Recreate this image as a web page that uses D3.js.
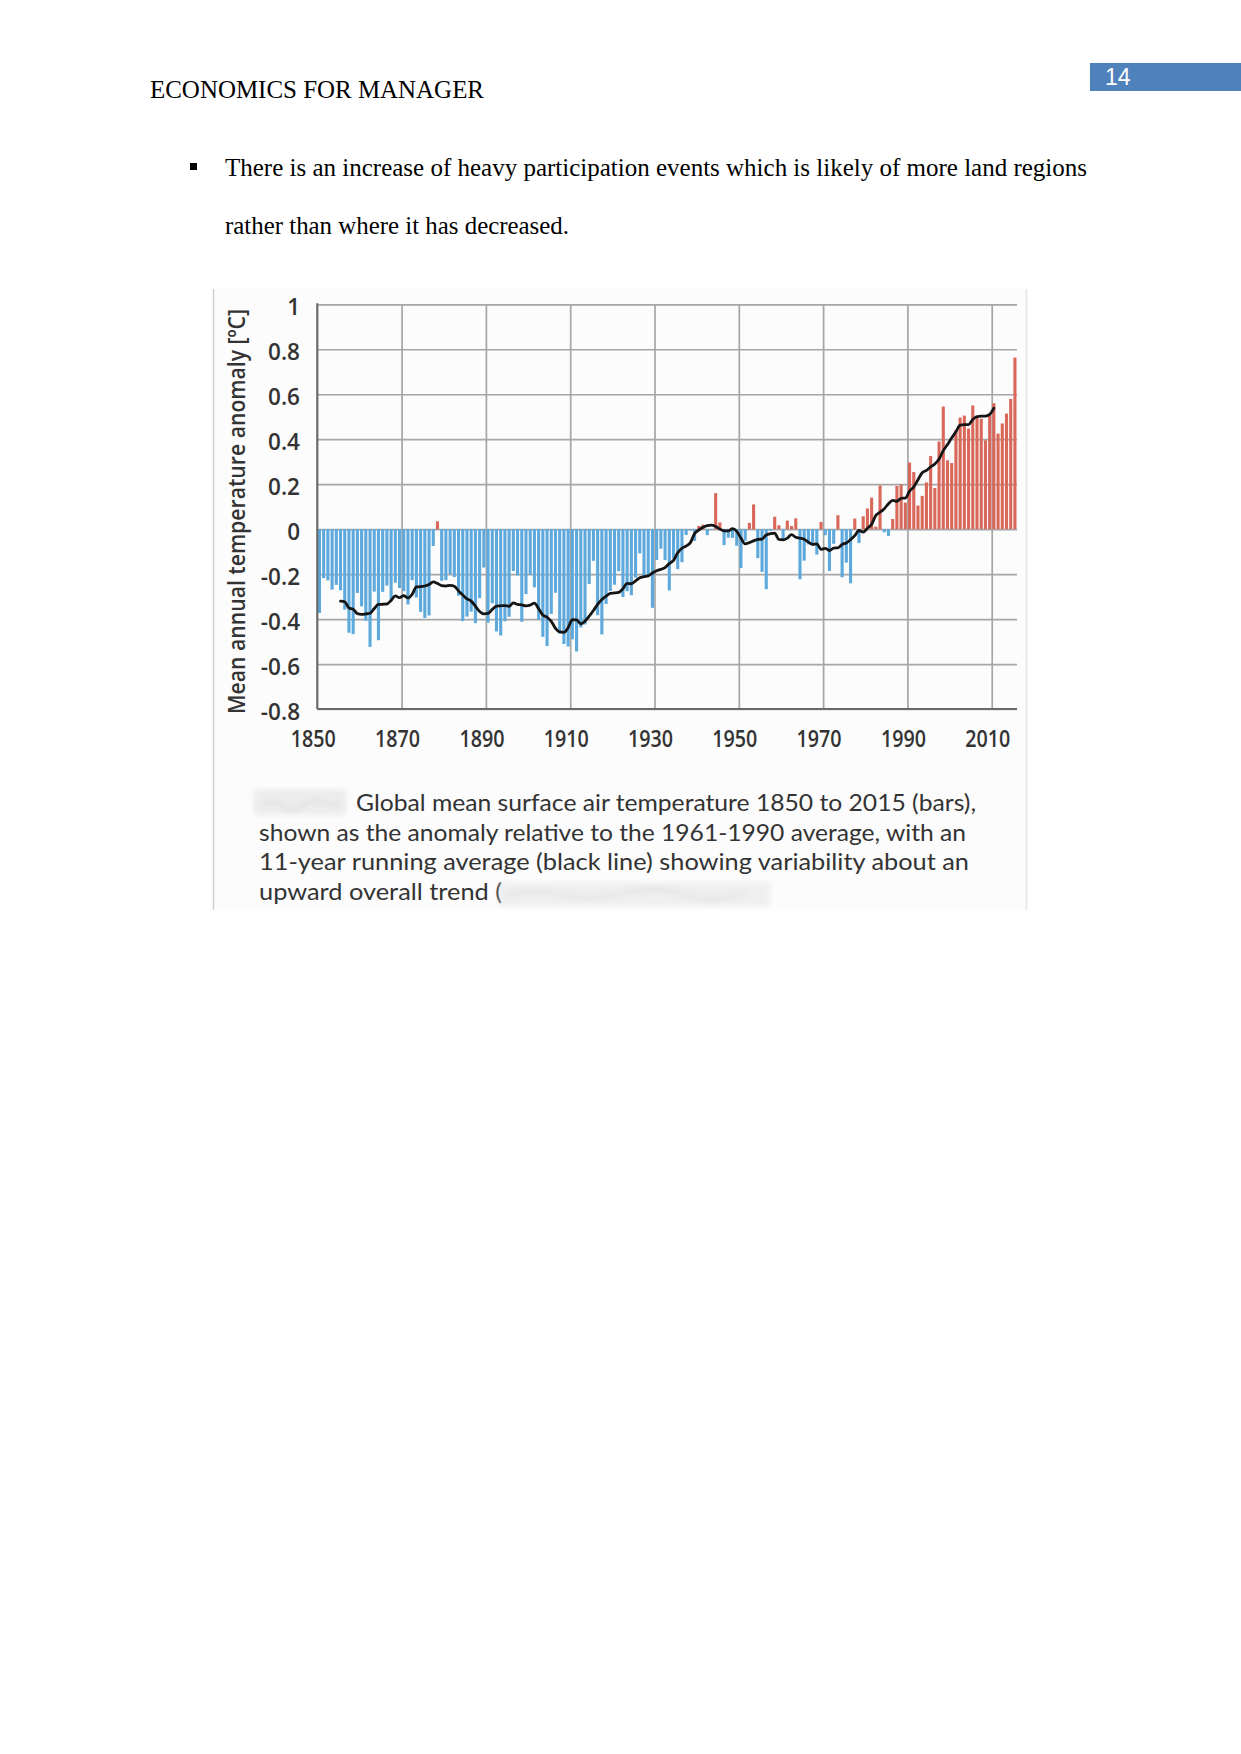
<!DOCTYPE html>
<html>
<head>
<meta charset="utf-8">
<script src="https://cdn.jsdelivr.net/npm/d3@7"></script>
<style>
  html, body { margin: 0; padding: 0; background: #ffffff; }
  svg { display: block; }
</style>
</head>
<body>
<svg id="page" width="1241" height="1754"></svg>
<script>
// ---------------- DATA ----------------
const years = d3.range(1850, 2016);
const anomaly = [
  -0.373, -0.218, -0.228, -0.269, -0.248, -0.272, -0.358, -0.461, -0.467, -0.284,
  -0.343, -0.407, -0.524, -0.278, -0.494, -0.279, -0.251, -0.321, -0.238, -0.262,
  -0.276, -0.335, -0.227, -0.304, -0.368, -0.395, -0.384, -0.075, 0.035, -0.230,
  -0.227, -0.200, -0.213, -0.296, -0.409, -0.389, -0.367, -0.418, -0.307, -0.171,
  -0.416, -0.330, -0.455, -0.473, -0.410, -0.390, -0.186, -0.206, -0.412, -0.289,
  -0.203, -0.259, -0.402, -0.479, -0.520, -0.377, -0.283, -0.465, -0.511, -0.522,
  -0.490, -0.544, -0.437, -0.424, -0.244, -0.141, -0.383, -0.468, -0.333, -0.275,
  -0.247, -0.187, -0.302, -0.276, -0.294, -0.215, -0.108, -0.210, -0.206, -0.350,
  -0.137, -0.087, -0.137, -0.273, -0.131, -0.178, -0.147, -0.026, -0.006, -0.052,
  0.014, 0.020, -0.027, -0.004, 0.160, 0.030, -0.071, -0.038, -0.039, -0.074,
  -0.173, -0.052, 0.028, 0.110, -0.129, -0.190, -0.267, -0.007, 0.055, 0.017,
  -0.049, 0.038, 0.014, 0.048, -0.223, -0.140, -0.068, -0.074, -0.113, 0.032,
  -0.027, -0.186, -0.065, 0.062, -0.214, -0.149, -0.241, 0.047, -0.062, 0.057,
  0.092, 0.140, 0.011, 0.194, -0.014, -0.030, 0.045, 0.192, 0.198, 0.118,
  0.296, 0.254, 0.105, 0.148, 0.208, 0.325, 0.183, 0.390, 0.545, 0.306,
  0.294, 0.441, 0.496, 0.505, 0.447, 0.550, 0.506, 0.491, 0.395, 0.506,
  0.560, 0.425, 0.470, 0.514, 0.579, 0.763
];
const trendYears = d3.range(1855, 2011);
const trend = [
  -0.320, -0.323, -0.351, -0.356, -0.376,
  -0.379, -0.377, -0.374, -0.353, -0.335, -0.334, -0.333, -0.317, -0.297, -0.305,
  -0.296, -0.306, -0.290, -0.257, -0.256, -0.253, -0.246, -0.235, -0.242, -0.251,
  -0.253, -0.250, -0.254, -0.275, -0.293, -0.310, -0.320, -0.343, -0.366, -0.377,
  -0.375, -0.357, -0.342, -0.341, -0.340, -0.343, -0.328, -0.335, -0.337, -0.341,
  -0.338, -0.329, -0.354, -0.382, -0.392, -0.410, -0.441, -0.457, -0.459, -0.438,
  -0.403, -0.404, -0.421, -0.409, -0.387, -0.362, -0.335, -0.313, -0.298, -0.286,
  -0.284, -0.281, -0.265, -0.241, -0.243, -0.230, -0.216, -0.211, -0.208, -0.195,
  -0.185, -0.179, -0.171, -0.153, -0.139, -0.105, -0.085, -0.075, -0.060, -0.020,
  -0.004, 0.008, 0.016, 0.018, 0.012, 0.000, -0.008, -0.008, 0.002, -0.010,
  -0.040, -0.066, -0.060, -0.052, -0.046, -0.044, -0.026, -0.020, -0.018, -0.046,
  -0.048, -0.040, -0.024, -0.036, -0.040, -0.045, -0.058, -0.068, -0.066, -0.090,
  -0.086, -0.095, -0.084, -0.083, -0.068, -0.062, -0.047, -0.029, -0.006, -0.013,
  0.004, 0.022, 0.061, 0.075, 0.091, 0.113, 0.128, 0.124, 0.137, 0.138,
  0.169, 0.188, 0.220, 0.251, 0.261, 0.277, 0.290, 0.312, 0.349, 0.376,
  0.406, 0.433, 0.463, 0.465, 0.465, 0.488, 0.500, 0.503, 0.503, 0.510,
  0.538
];
const yTicks = [1, 0.8, 0.6, 0.4, 0.2, 0, -0.2, -0.4, -0.6, -0.8];
const yTickLabels = ["1", "0.8", "0.6", "0.4", "0.2", "0", "-0.2", "-0.4", "-0.6", "-0.8"];
const xTicks = [1850, 1870, 1890, 1910, 1930, 1950, 1970, 1990, 2010];
const yAxisTitle = "Mean annual temperature anomaly [\u00baC]";
const captionLines = [
  "Global mean surface air temperature 1850 to 2015 (bars),",
  "shown as the anomaly relative to the 1961-1990 average, with an",
  "11-year running average (black line) showing variability about an",
  "upward overall trend ("
];
const headerText = "ECONOMICS FOR MANAGER";
const pageNumber = "14";
const bulletLines = [
  "There is an increase of heavy participation events which is likely of more land regions",
  "rather than where it has decreased."
];

// ---------------- DRAW ----------------
const svg = d3.select("#page");

// Page header
svg.append("text")
  .attr("x", 150).attr("y", 98)
  .attr("font-family", "'Liberation Serif', 'Times New Roman', serif")
  .attr("font-size", 25).attr("fill", "#000")
  .attr("textLength", 334).attr("lengthAdjust", "spacingAndGlyphs")
  .text(headerText);

svg.append("rect").attr("x", 1090).attr("y", 63).attr("width", 151).attr("height", 28)
  .attr("fill", "#4f81bd");
svg.append("text")
  .attr("x", 1105).attr("y", 85)
  .attr("font-family", "'Liberation Sans', Arial, sans-serif")
  .attr("font-size", 23).attr("fill", "#ffffff")
  .text(pageNumber);

// Bullet paragraph
svg.append("rect").attr("x", 190).attr("y", 163).attr("width", 7).attr("height", 7).attr("fill", "#000");
const bulletBaselines = [176, 234];
const bulletWidths = [862, 344];
bulletLines.forEach((t, i) => {
  svg.append("text")
    .attr("x", 225).attr("y", bulletBaselines[i])
    .attr("font-family", "'Liberation Serif', 'Times New Roman', serif")
    .attr("font-size", 25).attr("fill", "#000")
    .attr("textLength", bulletWidths[i]).attr("lengthAdjust", "spacingAndGlyphs")
    .text(t);
});

// Figure panel
const panel = svg.append("g");
panel.append("rect").attr("x", 213).attr("y", 289).attr("width", 814).attr("height", 621)
  .attr("fill", "#fcfcfc");
panel.append("line").attr("x1", 213.5).attr("x2", 213.5).attr("y1", 289).attr("y2", 910)
  .attr("stroke", "#cfcfcf").attr("stroke-width", 1.5);
panel.append("line").attr("x1", 1026.5).attr("x2", 1026.5).attr("y1", 289).attr("y2", 910)
  .attr("stroke", "#e4e4e4").attr("stroke-width", 1.5);

// Scales
const x = d3.scaleLinear().domain([1850, 2016]).range([317.3, 1017]);
const y = d3.scaleLinear().domain([-0.8, 1]).range([709, 304.3]);

const chart = svg.append("g");

// Grid: horizontal
chart.append("g")
  .attr("transform", `translate(${x(1850)},0)`)
  .call(d3.axisLeft(y).tickValues(yTicks).tickSize(-(x(2016) - x(1850))).tickFormat(""))
  .call(g => g.select(".domain").remove())
  .call(g => g.selectAll(".tick line").attr("stroke", "#a6a6a6").attr("stroke-width", 1.7));

// Grid: vertical
chart.append("g")
  .attr("transform", `translate(0,${y(-0.8)})`)
  .call(d3.axisBottom(x).tickValues(xTicks.slice(1)).tickSize(-(y(-0.8) - y(1))).tickFormat(""))
  .call(g => g.select(".domain").remove())
  .call(g => g.selectAll(".tick line").attr("stroke", "#a6a6a6").attr("stroke-width", 1.7));

// Bars
const barOffset = 0.6, barW = 3.1;
chart.append("g").selectAll("rect")
  .data(years.map((yr, i) => ({ yr, v: anomaly[i] })))
  .join("rect")
  .attr("x", d => x(d.yr) + barOffset)
  .attr("width", barW)
  .attr("y", d => d.v >= 0 ? y(d.v) : y(0))
  .attr("height", d => Math.abs(y(d.v) - y(0)))
  .attr("fill", d => d.v >= 0 ? "#d9685b" : "#5ea9dc");

// Axis lines
chart.append("line").attr("x1", x(1850)).attr("x2", x(1850)).attr("y1", y(1) - 1).attr("y2", y(-0.8))
  .attr("stroke", "#6a6a6a").attr("stroke-width", 2.2);
chart.append("line").attr("x1", x(1850)).attr("x2", x(2016)).attr("y1", y(-0.8)).attr("y2", y(-0.8))
  .attr("stroke", "#6a6a6a").attr("stroke-width", 2.2);

// Running average line
const line = d3.line()
  .x(d => x(d.yr) + barOffset + barW / 2)
  .y(d => y(d.v))
  .curve(d3.curveMonotoneX);
chart.append("path")
  .datum(trendYears.map((yr, i) => ({ yr, v: trend[i] })))
  .attr("d", line)
  .attr("fill", "none")
  .attr("stroke", "#151515")
  .attr("stroke-width", 2.8)
  .attr("stroke-linejoin", "round")
  .attr("stroke-linecap", "round");

// Y tick labels
chart.append("g").selectAll("text")
  .data(yTicks)
  .join("text")
  .attr("x", 300)
  .attr("y", d => y(d) + 10.5)
  .attr("text-anchor", "end")
  .attr("font-family", "'Open Sans', 'Noto Sans', sans-serif")
  .attr("font-weight", 600)
  .attr("font-size", 22.5)
  .attr("fill", "#333")
  .text((d, i) => yTickLabels[i]);

// X tick labels
const xLabelW = 45;
chart.append("g").selectAll("text")
  .data(xTicks)
  .join("text")
  .attr("x", d => x(d) - 4 - xLabelW / 2)
  .attr("y", 746.5)
  .attr("font-family", "'Open Sans', 'Noto Sans', sans-serif")
  .attr("font-weight", 600)
  .attr("font-size", 23)
  .attr("fill", "#333")
  .attr("textLength", xLabelW)
  .attr("lengthAdjust", "spacingAndGlyphs")
  .text(d => String(d));

// Y axis title
chart.append("text")
  .attr("transform", "translate(245,714) rotate(-90)")
  .attr("x", 0).attr("y", 0)
  .attr("font-family", "'Open Sans', 'Noto Sans', sans-serif")
  .attr("font-weight", 600)
  .attr("font-size", 23.5)
  .attr("fill", "#333")
  .attr("textLength", 405)
  .attr("lengthAdjust", "spacingAndGlyphs")
  .text(yAxisTitle);

// Caption
const capX = [356, 259, 259, 259];
const capY = [811, 840.5, 870, 899.5];
const capW = [620, 707, 710, 243];
captionLines.forEach((t, i) => {
  chart.append("text")
    .attr("x", capX[i]).attr("y", capY[i])
    .attr("font-family", "Lato, 'Open Sans', sans-serif")
    .attr("font-size", 24)
    .attr("fill", "#333")
    .attr("textLength", capW[i])
    .attr("lengthAdjust", "spacingAndGlyphs")
    .text(t);
});

// Blurred (redacted) smudges in the caption
const defs = svg.append("defs");
defs.append("filter").attr("id", "smudge").attr("x", "-20%").attr("y", "-50%").attr("width", "140%").attr("height", "200%")
  .append("feGaussianBlur").attr("stdDeviation", 2.5);
const sm = chart.append("g").attr("filter", "url(#smudge)");
sm.append("rect").attr("x", 254).attr("y", 789).attr("width", 92).attr("height", 26)
  .attr("fill", "#dedede").attr("opacity", 0.5);
sm.append("rect").attr("x", 498).attr("y", 882).attr("width", 272).attr("height", 24)
  .attr("fill", "#e0e0e0").attr("opacity", 0.45);
const scribble = chart.append("g").attr("filter", "url(#smudge)")
  .attr("stroke", "#bdbdbd").attr("stroke-width", 1.2).attr("fill", "none").attr("opacity", 0.6);
scribble.append("path").attr("d", "M262,806 q10,-8 20,0 t20,0 t20,-4 t18,2");
scribble.append("path").attr("d", "M505,895 q30,-6 60,0 t60,-2 t60,2 t60,-3");
</script>
</body>
</html>
